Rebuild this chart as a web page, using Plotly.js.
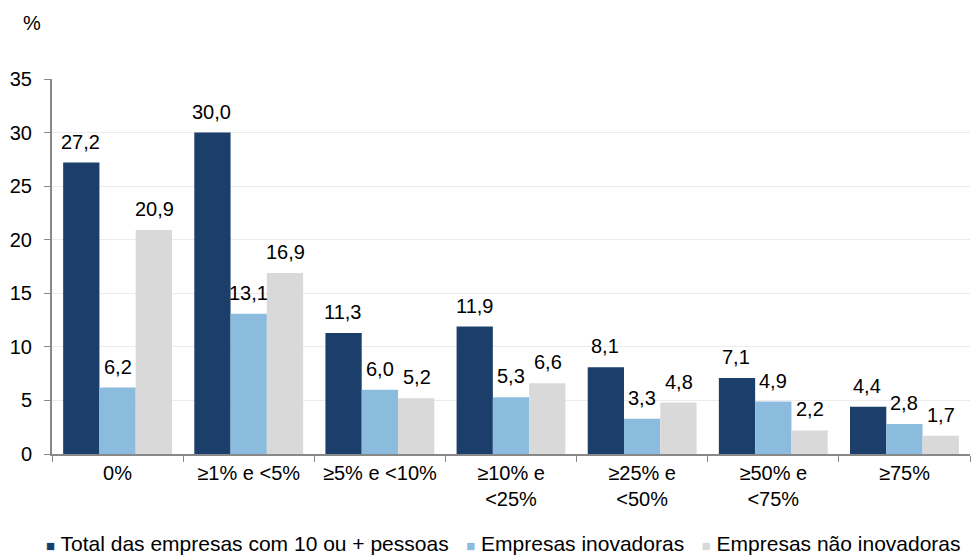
<!DOCTYPE html>
<html><head><meta charset="utf-8">
<script src="https://cdn.plot.ly/plotly-3.0.1.min.js"></script>
<style>html,body{margin:0;padding:0;background:#fff}#c{width:971px;height:558px}</style>
</head><body><div id="c"></div>
<script>
const categories = ["0%", "≥1% e <5%", "≥5% e <10%", "≥10% e<br><25%", "≥25% e<br><50%", "≥50% e<br><75%", "≥75%"];
const seriesNames = ["Total das empresas com 10 ou + pessoas", "Empresas inovadoras", "Empresas não inovadoras"];
const totalVals = [27.2, 30.0, 11.3, 11.9, 8.1, 7.1, 4.4];
const inovVals = [6.2, 13.1, 6.0, 5.3, 3.3, 4.9, 2.8];
const naoInovVals = [20.9, 16.9, 5.2, 6.6, 4.8, 2.2, 1.7];
const colors = ["#1B3F6A", "#8BBCDD", "#D9D9D9"];
const yTicks = [0, 5, 10, 15, 20, 25, 30, 35];

const FONT = "Liberation Sans, Arial, sans-serif";
const allVals = [totalVals, inovVals, naoInovVals];
const traces = allVals.map((v, i) => ({
  type: "bar", x: categories, y: v, name: seriesNames[i],
  marker: {color: colors[i]}, hoverinfo: "none"
}));

const fmt = v => v.toFixed(1).replace(".", ",");
const annotations = [];
allVals.forEach((v, i) => {
  v.forEach((val, j) => {
    annotations.push({
      x: categories[j], y: val, xref: "x", yref: "y", xshift: (i - 1) * 37, yshift: 8,
      text: fmt(val), showarrow: false, xanchor: "center", yanchor: "bottom",
      font: {family: FONT, size: 20, color: "#000"}
    });
  });
});
annotations.push({text: "%", xref: "paper", yref: "paper", x: -0.022, y: 1.15, showarrow: false,
  xanchor: "center", yanchor: "middle", font: {family: FONT, size: 20, color: "#000"}});
const sq = c => `<span style="color:${c};font-size:15px">■</span>`;
const legendText = seriesNames.map((n, i) => sq(colors[i]) + " " + n).join("   ");
annotations.push({text: legendText, xref: "paper", yref: "paper", x: -0.009, y: -0.238,
  xanchor: "left", yanchor: "middle", showarrow: false, font: {family: FONT, size: 21, color: "#000"}});

const layout = {
  width: 971, height: 558,
  margin: {l: 52, r: 1, t: 79, b: 104},
  font: {family: FONT, size: 20, color: "#000"},
  barmode: "group", bargap: 0.17, bargroupgap: 0,
  plot_bgcolor: "#fff", paper_bgcolor: "#fff",
  showlegend: false,
  xaxis: {showline: true, linecolor: "#888", linewidth: 2, ticks: "outside", tickson: "boundaries",
          ticklen: 6, tickcolor: "#888", tickfont: {size: 20}, showgrid: false, automargin: false},
  yaxis: {range: [0, 35], tickvals: yTicks, ticks: "outside", ticklen: 6, tickcolor: "#888",
          showline: true, linecolor: "#888", linewidth: 2, showgrid: true, gridcolor: "#ebebeb",
          tickfont: {size: 20}, zeroline: false, ticklabelstandoff: 8, automargin: false},
  annotations: annotations
};
Plotly.newPlot("c", traces, layout, {displayModeBar: false, staticPlot: true});
</script></body></html>
